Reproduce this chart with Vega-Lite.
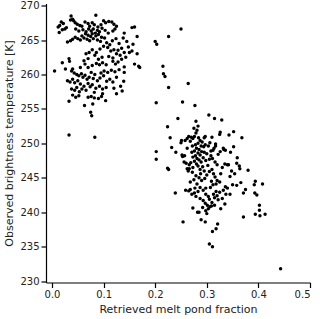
{
  "$schema": "https://vega.github.io/schema/vega-lite/v6.json",
  "width": 264,
  "height": 279,
  "autosize": {"type": "none"},
  "padding": {"left": 46, "top": 3.5, "right": 10, "bottom": 37},
  "background": "white",
  "config": {
    "view": {"stroke": null},
    "axis": {"grid": false, "domainColor": "black", "tickColor": "black", "labelColor": "#222", "titleColor": "#222", "labelFont": "DejaVu Sans", "titleFont": "DejaVu Sans", "labelFontSize": 10, "titleFontSize": 11, "titleFontWeight": "normal", "tickSize": 5, "labelPadding": 2, "domainWidth": 1.2, "tickWidth": 1.2}
  },
  "data": {"values": [
    {"f":0.037,"t":268.5},{"f":0.085,"t":268.6},{"f":0.040,"t":268.0},{"f":0.036,"t":267.9},{"f":0.015,"t":267.1},{"f":0.022,"t":267.4},{"f":0.018,"t":267.6},{"f":0.042,"t":267.8},{"f":0.045,"t":267.5},{"f":0.049,"t":267.3},{"f":0.054,"t":267.1},{"f":0.058,"t":267.0},{"f":0.064,"t":267.6},{"f":0.070,"t":267.4},{"f":0.073,"t":267.0},{"f":0.078,"t":267.5},{"f":0.082,"t":267.2},{"f":0.089,"t":266.9},{"f":0.095,"t":267.2},{"f":0.100,"t":267.8},{"f":0.104,"t":267.5},{"f":0.110,"t":267.7},{"f":0.116,"t":267.6},{"f":0.120,"t":267.3},{"f":0.125,"t":267.0},{"f":0.160,"t":266.9},{"f":0.155,"t":266.8},{"f":0.028,"t":266.8},{"f":0.012,"t":266.9},{"f":0.020,"t":266.5},{"f":0.014,"t":266.1},{"f":0.025,"t":266.6},{"f":0.046,"t":266.6},{"f":0.052,"t":266.3},{"f":0.060,"t":266.5},{"f":0.066,"t":266.2},{"f":0.071,"t":266.6},{"f":0.076,"t":266.3},{"f":0.080,"t":266.6},{"f":0.084,"t":266.0},{"f":0.088,"t":266.4},{"f":0.092,"t":266.2},{"f":0.097,"t":266.7},{"f":0.103,"t":266.4},{"f":0.109,"t":266.0},{"f":0.118,"t":266.3},{"f":0.122,"t":266.6},{"f":0.140,"t":266.0},{"f":0.065,"t":265.9},{"f":0.070,"t":265.7},{"f":0.075,"t":265.5},{"f":0.078,"t":265.9},{"f":0.085,"t":265.6},{"f":0.090,"t":265.8},{"f":0.096,"t":265.4},{"f":0.058,"t":265.6},{"f":0.062,"t":265.3},{"f":0.045,"t":265.4},{"f":0.040,"t":265.1},{"f":0.036,"t":264.9},{"f":0.030,"t":264.7},{"f":0.050,"t":265.2},{"f":0.055,"t":265.0},{"f":0.068,"t":265.1},{"f":0.073,"t":264.9},{"f":0.080,"t":265.2},{"f":0.088,"t":265.0},{"f":0.094,"t":264.8},{"f":0.102,"t":265.3},{"f":0.106,"t":264.6},{"f":0.112,"t":264.3},{"f":0.117,"t":264.9},{"f":0.124,"t":265.2},{"f":0.130,"t":264.5},{"f":0.138,"t":265.3},{"f":0.145,"t":264.8},{"f":0.165,"t":265.5},{"f":0.157,"t":264.4},{"f":0.148,"t":264.0},{"f":0.135,"t":263.8},{"f":0.128,"t":263.5},{"f":0.120,"t":263.6},{"f":0.114,"t":263.4},{"f":0.108,"t":263.9},{"f":0.100,"t":264.1},{"f":0.093,"t":263.7},{"f":0.086,"t":263.2},{"f":0.078,"t":263.6},{"f":0.072,"t":263.2},{"f":0.066,"t":263.0},{"f":0.125,"t":263.0},{"f":0.132,"t":262.8},{"f":0.140,"t":263.2},{"f":0.150,"t":263.2},{"f":0.155,"t":263.4},{"f":0.165,"t":263.0},{"f":0.143,"t":262.5},{"f":0.118,"t":262.4},{"f":0.110,"t":262.6},{"f":0.097,"t":262.5},{"f":0.090,"t":262.2},{"f":0.083,"t":262.8},{"f":0.070,"t":262.3},{"f":0.062,"t":262.0},{"f":0.033,"t":262.3},{"f":0.034,"t":261.9},{"f":0.020,"t":261.7},{"f":0.135,"t":262.2},{"f":0.128,"t":261.8},{"f":0.123,"t":261.5},{"f":0.118,"t":261.9},{"f":0.105,"t":261.4},{"f":0.098,"t":261.7},{"f":0.092,"t":261.4},{"f":0.086,"t":261.6},{"f":0.078,"t":261.3},{"f":0.070,"t":261.0},{"f":0.064,"t":261.5},{"f":0.055,"t":261.0},{"f":0.140,"t":261.1},{"f":0.160,"t":261.5},{"f":0.168,"t":261.2},{"f":0.170,"t":261.0},{"f":0.130,"t":260.7},{"f":0.122,"t":260.4},{"f":0.115,"t":260.6},{"f":0.108,"t":260.3},{"f":0.101,"t":260.5},{"f":0.095,"t":260.2},{"f":0.083,"t":260.0},{"f":0.076,"t":260.3},{"f":0.040,"t":260.8},{"f":0.038,"t":260.5},{"f":0.026,"t":260.8},{"f":0.005,"t":260.5},{"f":0.043,"t":260.2},{"f":0.048,"t":260.0},{"f":0.052,"t":259.8},{"f":0.057,"t":260.1},{"f":0.060,"t":259.6},{"f":0.064,"t":259.9},{"f":0.068,"t":259.3},{"f":0.072,"t":259.6},{"f":0.080,"t":259.4},{"f":0.088,"t":259.1},{"f":0.093,"t":259.5},{"f":0.100,"t":259.8},{"f":0.106,"t":259.0},{"f":0.112,"t":259.3},{"f":0.118,"t":258.9},{"f":0.125,"t":259.6},{"f":0.140,"t":260.3},{"f":0.139,"t":259.0},{"f":0.030,"t":259.1},{"f":0.035,"t":258.9},{"f":0.040,"t":259.3},{"f":0.044,"t":258.8},{"f":0.050,"t":259.1},{"f":0.055,"t":258.6},{"f":0.062,"t":258.3},{"f":0.070,"t":258.7},{"f":0.074,"t":258.2},{"f":0.078,"t":258.5},{"f":0.085,"t":258.0},{"f":0.092,"t":258.3},{"f":0.098,"t":257.9},{"f":0.105,"t":258.1},{"f":0.120,"t":258.0},{"f":0.133,"t":258.3},{"f":0.038,"t":257.9},{"f":0.044,"t":257.7},{"f":0.048,"t":258.1},{"f":0.053,"t":257.5},{"f":0.058,"t":257.9},{"f":0.066,"t":257.7},{"f":0.082,"t":257.4},{"f":0.098,"t":257.2},{"f":0.125,"t":257.2},{"f":0.136,"t":257.6},{"f":0.040,"t":257.0},{"f":0.046,"t":256.7},{"f":0.052,"t":256.9},{"f":0.070,"t":256.7},{"f":0.076,"t":256.8},{"f":0.082,"t":256.6},{"f":0.090,"t":256.5},{"f":0.096,"t":256.8},{"f":0.104,"t":256.2},{"f":0.033,"t":256.1},{"f":0.063,"t":255.5},{"f":0.079,"t":255.7},{"f":0.075,"t":254.5},{"f":0.077,"t":254.0},{"f":0.033,"t":251.2},{"f":0.083,"t":250.9},
    {"f":0.250,"t":266.6},{"f":0.226,"t":265.5},{"f":0.200,"t":264.8},{"f":0.203,"t":264.4},{"f":0.215,"t":261.2},{"f":0.216,"t":260.1},{"f":0.219,"t":259.7},{"f":0.226,"t":258.1},{"f":0.264,"t":258.7},{"f":0.202,"t":255.9},{"f":0.253,"t":256.0},{"f":0.277,"t":255.5},{"f":0.304,"t":254.1},{"f":0.315,"t":253.6},{"f":0.329,"t":253.4},{"f":0.244,"t":253.6},{"f":0.279,"t":253.2},{"f":0.224,"t":252.4},{"f":0.352,"t":251.7},{"f":0.343,"t":251.2},{"f":0.368,"t":250.8},{"f":0.325,"t":251.3},{"f":0.326,"t":251.6},{"f":0.297,"t":251.0},{"f":0.295,"t":250.8},{"f":0.229,"t":250.8},{"f":0.232,"t":249.4},{"f":0.202,"t":248.8},{"f":0.202,"t":247.7},{"f":0.240,"t":248.7},{"f":0.224,"t":246.4},{"f":0.226,"t":246.2},{"f":0.239,"t":242.8},{"f":0.259,"t":243.2},{"f":0.254,"t":238.6},{"f":0.297,"t":238.6},{"f":0.321,"t":238.3},{"f":0.318,"t":237.6},{"f":0.311,"t":237.2},{"f":0.305,"t":235.4},{"f":0.311,"t":235.0},{"f":0.443,"t":231.8},{"f":0.371,"t":239.3},{"f":0.394,"t":239.7},{"f":0.403,"t":239.5},{"f":0.413,"t":239.7},{"f":0.402,"t":240.3},{"f":0.402,"t":241.0},{"f":0.393,"t":242.8},{"f":0.397,"t":242.5},{"f":0.392,"t":244.0},{"f":0.394,"t":244.5},{"f":0.408,"t":244.1},{"f":0.371,"t":242.8},{"f":0.375,"t":243.3},{"f":0.380,"t":246.1},{"f":0.366,"t":244.3},{"f":0.358,"t":243.9},{"f":0.335,"t":241.2},{"f":0.345,"t":242.6},{"f":0.337,"t":242.6},{"f":0.359,"t":247.9},{"f":0.358,"t":247.1},{"f":0.363,"t":246.7},{"f":0.364,"t":246.3},{"f":0.354,"t":245.6},{"f":0.352,"t":249.5},{"f":0.346,"t":248.7},{"f":0.332,"t":249.3},{"f":0.333,"t":249.1},{"f":0.340,"t":246.9},{"f":0.342,"t":246.9},{"f":0.317,"t":249.9},{"f":0.317,"t":249.6},{"f":0.326,"t":248.8},
    {"f":0.251,"t":250.4},{"f":0.250,"t":250.1},{"f":0.252,"t":248.3},{"f":0.253,"t":248.1},{"f":0.256,"t":247.3},{"f":0.262,"t":246.3},{"f":0.266,"t":246.9},{"f":0.268,"t":243.3},{"f":0.282,"t":240.0},
    {"f":0.281,"t":251.9},{"f":0.279,"t":251.5},{"f":0.276,"t":251.0},{"f":0.284,"t":250.8},{"f":0.273,"t":250.7},{"f":0.270,"t":250.9},{"f":0.268,"t":250.3},{"f":0.287,"t":250.4},{"f":0.291,"t":250.2},{"f":0.283,"t":250.0},{"f":0.278,"t":249.8},{"f":0.272,"t":249.6},{"f":0.289,"t":249.6},{"f":0.294,"t":249.5},{"f":0.297,"t":249.8},{"f":0.280,"t":249.3},{"f":0.285,"t":249.1},{"f":0.276,"t":248.9},{"f":0.271,"t":248.7},{"f":0.283,"t":248.6},{"f":0.290,"t":248.8},{"f":0.295,"t":248.7},{"f":0.300,"t":248.5},{"f":0.287,"t":248.3},{"f":0.278,"t":248.2},{"f":0.273,"t":248.0},{"f":0.281,"t":247.8},{"f":0.293,"t":247.9},{"f":0.285,"t":247.6},{"f":0.276,"t":247.4},{"f":0.269,"t":247.2},{"f":0.289,"t":247.3},{"f":0.298,"t":247.5},{"f":0.305,"t":247.7},{"f":0.280,"t":247.0},{"f":0.283,"t":246.7},{"f":0.273,"t":246.5},{"f":0.266,"t":246.3},{"f":0.292,"t":246.6},{"f":0.287,"t":246.2},{"f":0.264,"t":246.0},{"f":0.260,"t":247.1},{"f":0.257,"t":248.2},{"f":0.262,"t":249.3},{"f":0.258,"t":250.4},{"f":0.265,"t":251.0},{"f":0.262,"t":250.7},{"f":0.275,"t":252.2},{"f":0.283,"t":252.5},{"f":0.310,"t":250.9},{"f":0.306,"t":250.1},{"f":0.312,"t":249.0},{"f":0.303,"t":249.6},{"f":0.308,"t":248.9},
    {"f":0.272,"t":245.8},{"f":0.279,"t":245.3},{"f":0.285,"t":245.0},{"f":0.275,"t":244.7},{"f":0.268,"t":244.4},{"f":0.281,"t":244.1},{"f":0.290,"t":244.6},{"f":0.296,"t":244.9},{"f":0.300,"t":245.4},{"f":0.305,"t":245.9},{"f":0.310,"t":246.2},{"f":0.313,"t":245.6},{"f":0.316,"t":245.1},{"f":0.320,"t":244.6},{"f":0.318,"t":244.1},{"f":0.325,"t":244.4},{"f":0.312,"t":244.0},{"f":0.307,"t":243.6},{"f":0.298,"t":243.5},{"f":0.293,"t":243.2},{"f":0.287,"t":243.6},{"f":0.283,"t":243.0},{"f":0.276,"t":242.8},{"f":0.271,"t":242.6},{"f":0.279,"t":242.3},{"f":0.287,"t":242.0},{"f":0.293,"t":241.7},{"f":0.297,"t":241.3},{"f":0.301,"t":241.0},{"f":0.306,"t":240.8},{"f":0.310,"t":241.4},{"f":0.315,"t":242.1},{"f":0.320,"t":242.4},{"f":0.325,"t":242.9},{"f":0.318,"t":243.0},{"f":0.322,"t":241.8},{"f":0.313,"t":242.6},{"f":0.303,"t":242.3},{"f":0.298,"t":242.6},{"f":0.305,"t":241.9},{"f":0.292,"t":240.7},{"f":0.285,"t":240.0},{"f":0.273,"t":240.6},{"f":0.298,"t":240.2},{"f":0.303,"t":240.5},{"f":0.309,"t":240.9},{"f":0.315,"t":241.0},{"f":0.330,"t":242.0},{"f":0.332,"t":243.2},{"f":0.336,"t":243.7},{"f":0.340,"t":243.5},{"f":0.327,"t":245.6},{"f":0.330,"t":246.5},{"f":0.335,"t":247.0},{"f":0.320,"t":246.9},{"f":0.316,"t":247.3},{"f":0.311,"t":247.8},{"f":0.308,"t":248.2},{"f":0.322,"t":248.4},{"f":0.314,"t":249.3},{"f":0.336,"t":249.0},{"f":0.345,"t":245.2},{"f":0.350,"t":244.0},{"f":0.348,"t":246.0},{"f":0.295,"t":246.0},{"f":0.302,"t":246.8},{"f":0.288,"t":245.6},{"f":0.277,"t":243.5},{"f":0.265,"t":243.1},{"f":0.309,"t":244.5},{"f":0.327,"t":240.5},{"f":0.300,"t":239.8},{"f":0.289,"t":238.9}
  ]},
  "mark": {"type": "circle", "color": "black", "opacity": 1, "size": 12},
  "encoding": {
    "x": {"field": "f", "type": "quantitative", "scale": {"domain": [-0.0116, 0.5], "nice": false, "zero": false},
      "axis": {"values": [0, 0.1, 0.2, 0.3, 0.4, 0.5], "format": ".1f", "title": "Retrieved melt pond fraction", "titlePadding": 4}},
    "y": {"field": "t", "type": "quantitative", "scale": {"domain": [229.8, 270.3], "nice": false, "zero": false},
      "axis": {"values": [230, 235, 240, 245, 250, 255, 260, 265, 270], "title": "Observed brightness temperature [K]", "titlePadding": 5}}
  }
}
